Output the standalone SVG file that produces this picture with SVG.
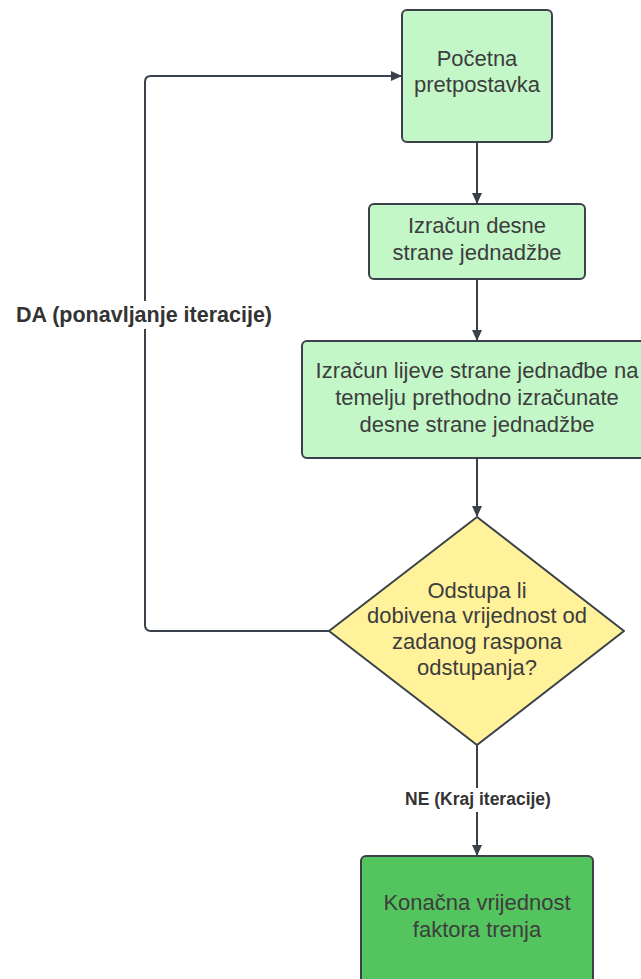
<svg xmlns="http://www.w3.org/2000/svg" width="641" height="979" viewBox="0 0 641 979">
<style>
.n{stroke:#3a414a;stroke-width:2}
.t{font-family:"Liberation Sans",Arial,sans-serif;font-size:22px;fill:#3d3d3d;text-anchor:middle}
.l{font-family:"Liberation Sans",Arial,sans-serif;font-weight:bold;fill:#333;text-anchor:middle}
.c{fill:none;stroke:#3a414a;stroke-width:2}
</style>
<defs>
<marker id="a" markerWidth="12" markerHeight="12" refX="10" refY="6" orient="auto" markerUnits="userSpaceOnUse">
<path d="M0,1 L11,6 L0,11 Z" fill="#3a414a"/>
</marker>
</defs>
<rect width="641" height="979" fill="#fff"/>
<g id="connectors">
<path class="c" d="M477,142 V203" marker-end="url(#a)"/>
<path class="c" d="M477,279 V340" marker-end="url(#a)"/>
<path class="c" d="M477,458 V516" marker-end="url(#a)"/>
<path class="c" d="M477,745 V855" marker-end="url(#a)"/>
<path class="c" d="M329,631 H151 Q145,631 145,625 V82 Q145,76 151,76 H401" marker-end="url(#a)"/>
</g>
<g id="label-da">
<rect x="8" y="301" width="272" height="28" fill="#fff"/>
<text class="l" x="144" y="322" font-size="21.5px">DA (ponavljanje iteracije)</text>
</g>
<g id="label-ne">
<rect x="398" y="788" width="160" height="24" fill="#fff"/>
<text class="l" x="478" y="805" font-size="17.5px">NE (Kraj iteracije)</text>
</g>
<g id="n1">
<rect class="n" x="402" y="10" width="150" height="132" rx="5" fill="#c3f7c8"/>
<text class="t" x="477" y="66">Početna</text>
<text class="t" x="477" y="92">pretpostavka</text>
</g>
<g id="n2">
<rect class="n" x="369" y="204" width="216" height="75" rx="5" fill="#c3f7c8"/>
<text class="t" x="477" y="233">Izračun desne</text>
<text class="t" x="477" y="260">strane jednadžbe</text>
</g>
<g id="n3">
<rect class="n" x="302" y="341" width="352" height="117" rx="5" fill="#c3f7c8"/>
<text class="t" x="477" y="378">Izračun lijeve strane jednađbe na</text>
<text class="t" x="477" y="405">temelju prethodno izračunate</text>
<text class="t" x="477" y="432">desne strane jednadžbe</text>
</g>
<g id="n4">
<path class="n" d="M477,517 L624,631 L477,745 L329,631 Z" stroke-linejoin="round" fill="#fff29b"/>
<text class="t" x="477" y="598">Odstupa li</text>
<text class="t" x="477" y="623">dobivena vrijednost od</text>
<text class="t" x="477" y="649">zadanog raspona</text>
<text class="t" x="477" y="675">odstupanja?</text>
</g>
<g id="n5">
<rect class="n" x="361" y="856" width="232" height="140" rx="5" fill="#54c45e"/>
<text class="t" x="477" y="910">Konačna vrijednost</text>
<text class="t" x="477" y="937">faktora trenja</text>
</g>
</svg>
